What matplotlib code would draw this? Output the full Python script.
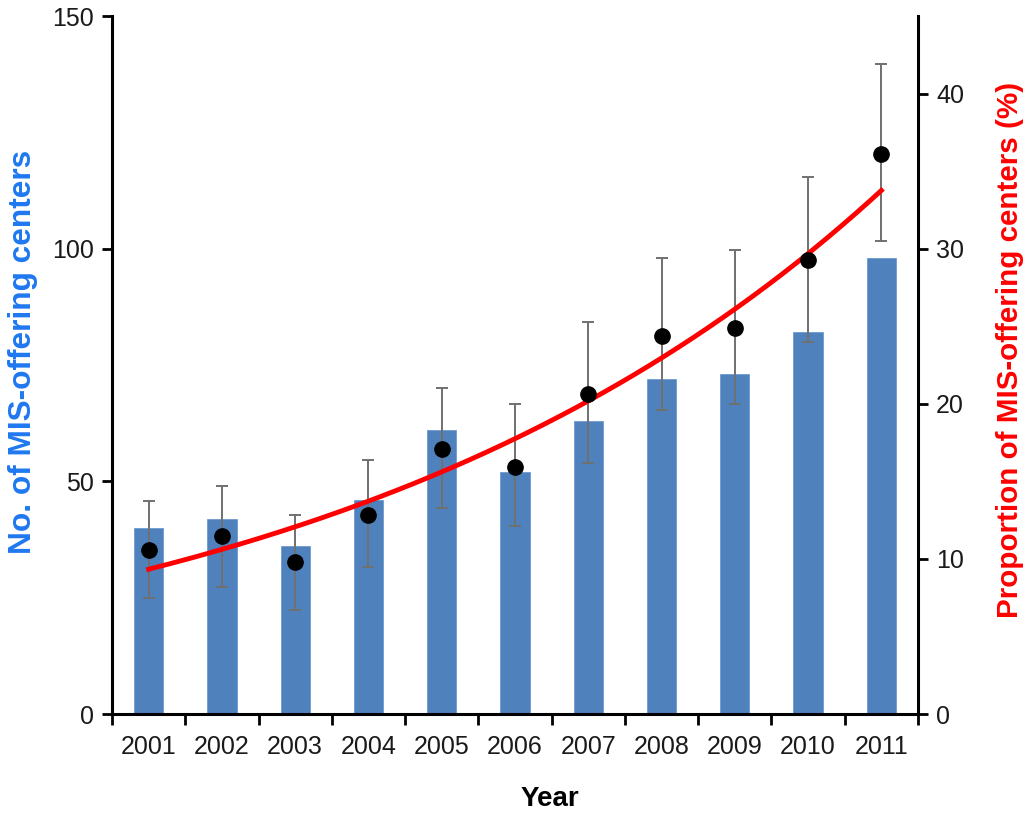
import numpy as np
import matplotlib.pyplot as plt

plt.rcParams['font.family'] = ['Liberation Sans', 'DejaVu Sans']

# Data
years = ['2001', '2002', '2003', '2004', '2005', '2006', '2007', '2008', '2009', '2010', '2011']
n_centers = [40, 42, 36, 46, 61, 52, 63, 72, 73, 82, 98]
proportion = [10.6, 11.5, 9.8, 12.8, 17.1, 15.9, 20.6, 24.4, 24.9, 29.3, 36.1]
ci_low = [7.5, 8.2, 6.7, 9.5, 13.3, 12.1, 16.2, 19.6, 20.0, 24.0, 30.5]
ci_high = [13.7, 14.7, 12.8, 16.4, 21.0, 20.0, 25.3, 29.4, 29.9, 34.6, 41.9]

x = np.arange(len(years))
prop = np.array(proportion)
yerr = [prop - np.array(ci_low), np.array(ci_high) - prop]

# exponential trendline (log-linear fit, as in Excel)
coef = np.polyfit(x, np.log(prop), 1)
xs = np.linspace(x[0], x[-1], 200)
trend = np.exp(np.polyval(coef, xs))

fig = plt.figure(figsize=(10.31, 8.14), dpi=100)
ax = fig.add_axes([112 / 1031, 100 / 814, 806 / 1031, 698 / 814])
ax2 = ax.twinx()

ax.bar(x, n_centers, width=0.4, color='#4f81bd', edgecolor='#6f9bd0', linewidth=0.6, zorder=2)

ax2.errorbar(x, prop, yerr=yerr, fmt='none', ecolor='#707070', elinewidth=1.4,
             capsize=4.5, capthick=1.4, zorder=2)
ax2.plot(xs, trend, color='#ff0000', linewidth=3.5, zorder=3)
ax2.plot(x, prop, 'o', color='black', markersize=11, zorder=4)

ax.set_xlim(-0.5, len(years) - 0.5)
ax.set_ylim(0, 150)
ax2.set_ylim(0, 45)
ax.set_yticks([0, 50, 100, 150])
ax2.set_yticks([0, 10, 20, 30, 40])

ax.set_xticks(x)
ax.set_xticklabels(years)
ax.set_xticks(np.arange(-0.5, len(years)), minor=True)
ax.tick_params(axis='x', which='major', length=0, pad=15, labelsize=18, labelcolor='#1a1a1a')
ax.tick_params(axis='x', which='minor', length=8, width=2, direction='out')
ax.tick_params(axis='y', length=7, width=2, pad=6, labelsize=18, labelcolor='#1a1a1a')
ax2.tick_params(axis='y', length=7, width=2, pad=6, labelsize=18, labelcolor='#1a1a1a')

for a in (ax, ax2):
    a.spines['top'].set_visible(False)
    for s in ('left', 'right', 'bottom'):
        a.spines[s].set_linewidth(2.2)
ax.spines['right'].set_visible(False)
ax2.spines['left'].set_visible(False)
ax2.spines['bottom'].set_visible(False)

fig.text(23 / 1031, 1 - 352 / 814, 'No. of MIS-offering centers', rotation=90,
         ha='center', va='center', fontsize=22.8, fontweight='bold', color='#1f78f0')
fig.text(1010 / 1031, 1 - 350 / 814, 'Proportion of MIS-offering centers (%)', rotation=90,
         ha='center', va='center', fontsize=21.3, fontweight='bold', color='#ff0000')
fig.text(550 / 1031, 1 - 799 / 814, 'Year', ha='center', va='center',
         fontsize=20, fontweight='bold', color='black')

fig.savefig('out.png', dpi=100)
